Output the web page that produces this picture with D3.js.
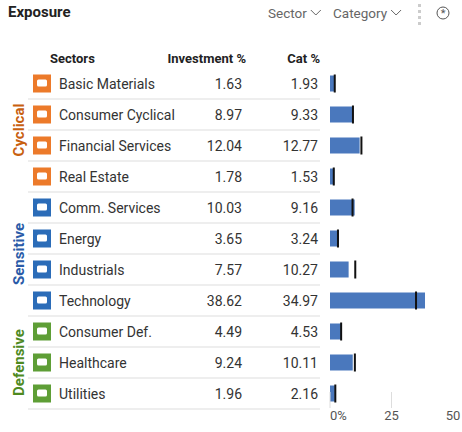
<!DOCTYPE html>
<html><head><meta charset="utf-8">
<script src="https://cdn.jsdelivr.net/npm/d3@7"></script>
<style>body{margin:0;background:#fff}text{font-family:"Liberation Sans Narrow","Roboto",sans-serif}</style>
</head><body><div id="chart"></div>
<script>
var sectors = ["Basic Materials","Consumer Cyclical","Financial Services","Real Estate","Comm. Services","Energy","Industrials","Technology","Consumer Def.","Healthcare","Utilities"];
var investment = [1.63,8.97,12.04,1.78,10.03,3.65,7.57,38.62,4.49,9.24,1.96];
var category = [1.93,9.33,12.77,1.53,9.16,3.24,10.27,34.97,4.53,10.11,2.16];
var groups = ["Cyclical","Cyclical","Cyclical","Cyclical","Sensitive","Sensitive","Sensitive","Sensitive","Defensive","Defensive","Defensive"];
var groupNames = ["Cyclical","Sensitive","Defensive"];
var groupColor = {Cyclical:"#c8600f",Sensitive:"#2a5ba8",Defensive:"#4e8a1f"};
var iconColor = {Cyclical:"#ec7a2a",Sensitive:"#2b6cb8",Defensive:"#5e9e36"};
var ticks = [0,25,50];

var W = 462, H = 432;
var svg = d3.select("#chart").append("svg").attr("width", W).attr("height", H);

var y = d3.scaleBand().domain(sectors).range([68, 409]).paddingInner(0);
var x = d3.scaleLinear().domain([0, 50]).range([330, 453]);

svg.append("text").attr("x", 8).attr("y", 17).attr("font-size", 15).attr("font-weight", "bold").attr("fill", "#222").text("Exposure");
[["Sector", 268], ["Category", 333]].forEach(function (d) {
    var t = svg.append("text").attr("x", d[1]).attr("y", 18).attr("font-size", 13.5).attr("fill", "#666").text(d[0]);
    var e = d[1] + t.node().getComputedTextLength() + 4;
    svg.append("path").attr("d", "M" + e + ",10l5,5l5,-5").attr("fill", "none").attr("stroke", "#666");
});
[4, 10, 16, 22].forEach(function (d) {
    svg.append("rect").attr("x", 418).attr("y", d).attr("width", 3).attr("height", 3).attr("fill", "#ccc");
});
svg.append("circle").attr("cx", 443).attr("cy", 13).attr("r", 6).attr("fill", "none").attr("stroke", "#555");
svg.append("text").attr("x", 443).attr("y", 17).attr("text-anchor", "middle").attr("font-size", 11).attr("fill", "#555").text("*");

svg.append("text").attr("x", 50).attr("y", 63).attr("font-size", 13).attr("font-weight", "bold").attr("fill", "#222").text("Sectors");
svg.append("text").attr("x", 246).attr("y", 63).attr("text-anchor", "end").attr("font-size", 13).attr("font-weight", "bold").attr("fill", "#222").text("Investment %");
svg.append("text").attr("x", 320).attr("y", 63).attr("text-anchor", "end").attr("font-size", 13).attr("font-weight", "bold").attr("fill", "#222").text("Cat %");

groupNames.forEach(function (g) {
    var idx = sectors.filter(function (s, i) { return groups[i] == g; });
    var y0 = y(idx[0]), y1 = y(idx[idx.length - 1]) + y.bandwidth();
    svg.append("text").attr("transform", "translate(24," + ((y0 + y1) / 2) + ") rotate(-90)")
        .attr("text-anchor", "middle").attr("font-size", 15).attr("font-weight", "bold").attr("fill", groupColor[g]).text(g);
});

var row = svg.selectAll(".row").data(sectors).enter().append("g").attr("class", "row")
    .attr("transform", function (d) { return "translate(0," + y(d) + ")"; });
var bh = y.bandwidth();
row.append("line").attr("x1", 28).attr("x2", 320).attr("y1", bh).attr("y2", bh).attr("stroke", "#ddd");
row.append("rect").attr("x", 33).attr("y", bh / 2 - 9).attr("width", 18).attr("height", 18)
    .attr("fill", function (d, i) { return iconColor[groups[i]]; });
row.append("rect").attr("x", 37).attr("y", bh / 2 - 4).attr("width", 10).attr("height", 7).attr("rx", 1.5).attr("fill", "#fff");
row.append("text").attr("x", 59).attr("y", bh / 2 + 5).attr("font-size", 14).attr("fill", "#333").text(function (d) { return d; });
row.append("text").attr("x", 242).attr("y", bh / 2 + 5).attr("text-anchor", "end").attr("font-size", 14).attr("fill", "#333")
    .text(function (d, i) { return investment[i].toFixed(2); });
row.append("text").attr("x", 318).attr("y", bh / 2 + 5).attr("text-anchor", "end").attr("font-size", 14).attr("fill", "#333")
    .text(function (d, i) { return category[i].toFixed(2); });
row.append("rect").attr("x", x(0)).attr("y", bh / 2 - 8).attr("height", 16)
    .attr("width", function (d, i) { return x(investment[i]) - x(0); }).attr("fill", "#4a78bd");
row.append("rect").attr("x", function (d, i) { return x(category[i]) - 1; }).attr("y", bh / 2 - 9).attr("width", 2).attr("height", 18).attr("fill", "#111");

ticks.forEach(function (t) {
    if (t < 50) svg.append("line").attr("x1", x(t)).attr("x2", x(t)).attr("y1", 392).attr("y2", 408).attr("stroke", "#ddd");
    svg.append("text").attr("x", x(t)).attr("y", 420).attr("text-anchor", t == 0 ? "start" : "middle").attr("font-size", 13).attr("fill", "#555")
        .text(t == 0 ? "0%" : t);
});
</script></body></html>
